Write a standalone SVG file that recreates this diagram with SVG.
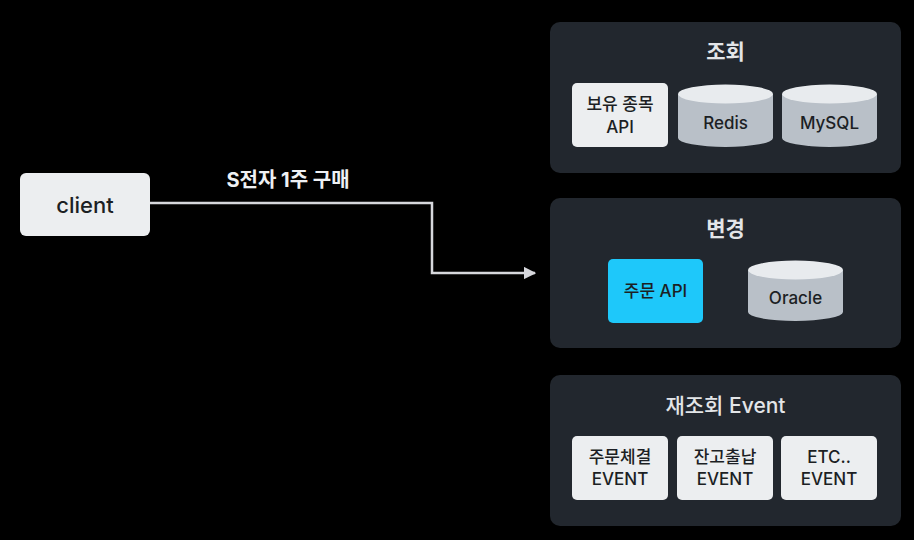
<svg xmlns="http://www.w3.org/2000/svg" width="914" height="540" viewBox="0 0 914 540">
<defs>
<style>
text{font-family:Inter,"Noto Sans CJK KR","Liberation Sans",sans-serif;text-anchor:middle;dominant-baseline:central}
.panel{fill:#22272e}
.title{fill:#e3e5e8;font-size:21px;font-weight:600}
.box{fill:#eceef0}
.lbl{fill:#1c1f24;font-size:17px;font-weight:500}
.cyl{fill:#b9c0c8}
.cyltop{fill:#e8ebee}
.conn{fill:none;stroke:#d6d7dc;stroke-width:2.5}
</style>
<marker id="arr" viewBox="0 0 10 10" refX="9" refY="5" markerWidth="5" markerHeight="5" orient="auto" markerUnits="strokeWidth">
<path d="M0,0 L10,5 L0,10 z" fill="#d6d7dc"/>
</marker>
</defs>
<rect width="914" height="540" fill="#000"/>
<g id="connectors">
<path class="conn" d="M150,203 H432 V273 H535" marker-end="url(#arr)"/>
<text x="288" y="180" style="fill:#eef0f3;font-size:20px;font-weight:700">S전자 1주 구매</text>
</g>
<g id="client">
<rect x="20" y="173" width="130" height="63" rx="6" fill="#eceef0"/>
<text x="85" y="204.5" style="fill:#1c1f24;font-size:22px;font-weight:500">client</text>
</g>
<g id="panel-query">
<rect class="panel" x="550" y="22" width="351" height="151" rx="10"/>
<text class="title" x="725.5" y="51">조회</text>
</g>
<g id="holdings-api">
<rect class="box" x="572" y="83" width="96" height="64" rx="5"/>
<text class="lbl" x="620" y="104">보유 종목</text>
<text class="lbl" x="620" y="127">API</text>
</g>
<g id="redis">
<path class="cyl" d="M678,94 V138 A47.5,9 0 0 0 773,138 V94 Z"/>
<ellipse class="cyltop" cx="725.5" cy="94" rx="47.5" ry="9.5"/>
<text class="lbl" x="725.5" y="123">Redis</text>
</g>
<g id="mysql">
<path class="cyl" d="M782,94 V138 A47.5,9 0 0 0 877,138 V94 Z"/>
<ellipse class="cyltop" cx="829.5" cy="94" rx="47.5" ry="9.5"/>
<text class="lbl" x="829.5" y="123">MySQL</text>
</g>
<g id="panel-change">
<rect class="panel" x="550" y="198" width="351" height="150" rx="10"/>
<text class="title" x="725.5" y="228">변경</text>
</g>
<g id="order-api">
<rect x="608" y="259" width="95" height="64" rx="5" fill="#1ec8fa"/>
<text class="lbl" x="655.5" y="291">주문 API</text>
</g>
<g id="oracle">
<path class="cyl" d="M748,270 V312 A47.5,9 0 0 0 843,312 V270 Z"/>
<ellipse class="cyltop" cx="795.5" cy="270" rx="47.5" ry="9.5"/>
<text class="lbl" x="795.5" y="298">Oracle</text>
</g>
<g id="panel-event">
<rect class="panel" x="550" y="375" width="351" height="151" rx="10"/>
<text class="title" x="725.5" y="405" style="font-weight:500">재조회 Event</text>
</g>
<g id="order-exec-event">
<rect class="box" x="572" y="436" width="96" height="64" rx="5"/>
<text class="lbl" x="620" y="457">주문체결</text>
<text class="lbl" x="620" y="479">EVENT</text>
</g>
<g id="balance-event">
<rect class="box" x="677" y="436" width="96" height="64" rx="5"/>
<text class="lbl" x="725" y="457">잔고출납</text>
<text class="lbl" x="725" y="479">EVENT</text>
</g>
<g id="etc-event">
<rect class="box" x="781" y="436" width="96" height="64" rx="5"/>
<text class="lbl" x="829" y="457">ETC..</text>
<text class="lbl" x="829" y="479">EVENT</text>
</g>
</svg>
